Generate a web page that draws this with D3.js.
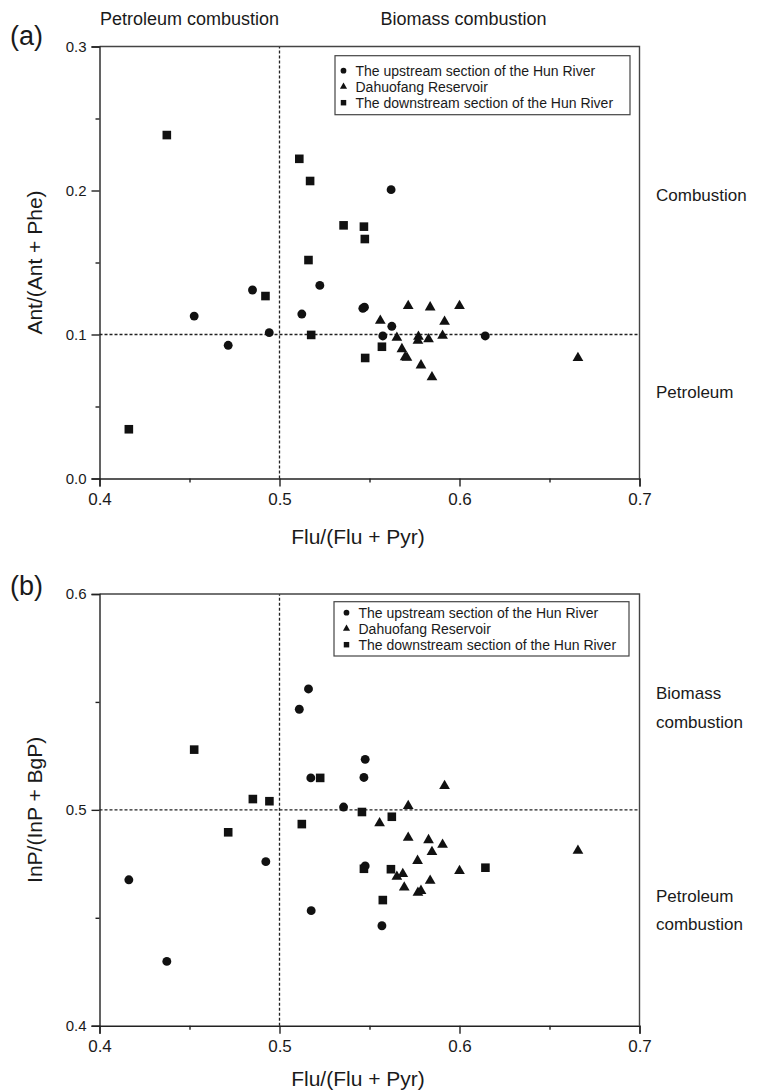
<!DOCTYPE html>
<html>
<head>
<meta charset="utf-8">
<script src="https://cdn.jsdelivr.net/npm/d3@7"></script>
<style>
    body { margin: 0; background: #fff; }
    svg text { font-family: Arial, "Liberation Sans", sans-serif; fill: #1a1a1a; }
</style>
</head>
<body>
<svg id="chart" width="766" height="1092"></svg>
<script>
// series names (same legend on both panels)
const seriesNames = [
    "The upstream section of the Hun River",
    "Dahuofang Reservoir",
    "The downstream section of the Hun River"
];

const xTicks = [0.4, 0.5, 0.6, 0.7];
const xMinor = [0.45, 0.55, 0.65];

// panel (a): Flu/(Flu+Pyr) vs Ant/(Ant+Phe)
const aTicks = [0.0, 0.1, 0.2, 0.3];
const aMinor = [0.05, 0.15, 0.25];
const aUpstream = [
    [0.562, 0.2006], [0.485, 0.1309], [0.5224, 0.1341], [0.4526, 0.1128],
    [0.5124, 0.1142], [0.5463, 0.1182], [0.5472, 0.119], [0.4943, 0.1013],
    [0.4715, 0.0925], [0.5624, 0.1057], [0.5574, 0.099], [0.6143, 0.099]
];
const aReservoir = [
    [0.556, 0.1096], [0.5652, 0.0978], [0.5715, 0.1198], [0.5837, 0.1189],
    [0.600, 0.1198], [0.5917, 0.1089], [0.5906, 0.0992], [0.5772, 0.0985],
    [0.5769, 0.0957], [0.5828, 0.0967], [0.568, 0.0899], [0.5698, 0.0842],
    [0.5708, 0.0839], [0.5786, 0.0786], [0.5847, 0.0703], [0.6658, 0.0837]
];
const aDownstream = [
    [0.4374, 0.2385], [0.511, 0.222], [0.517, 0.2066], [0.5356, 0.1758],
    [0.5469, 0.1749], [0.5474, 0.1663], [0.5161, 0.1517], [0.4922, 0.1267],
    [0.5176, 0.0997], [0.4163, 0.0342], [0.5569, 0.0915], [0.5476, 0.0837]
];

// panel (b): Flu/(Flu+Pyr) vs InP/(InP+BgP)
const bTicks = [0.4, 0.5, 0.6];
const bMinor = [0.45, 0.55];
const bUpstream = [
    [0.5161, 0.556], [0.511, 0.5466], [0.5476, 0.5234], [0.5174, 0.5148],
    [0.5469, 0.515], [0.5356, 0.5013], [0.4924, 0.476], [0.4163, 0.4676],
    [0.5476, 0.474], [0.5176, 0.4533], [0.5569, 0.4463], [0.4374, 0.4298]
];
const bReservoir = [
    [0.5556, 0.4938], [0.5652, 0.469], [0.5715, 0.5018], [0.5917, 0.5111],
    [0.5715, 0.4871], [0.5828, 0.486], [0.5906, 0.4839], [0.5847, 0.4805],
    [0.5767, 0.4764], [0.6658, 0.4811], [0.5685, 0.4703], [0.600, 0.4717],
    [0.5837, 0.4672], [0.5693, 0.4641], [0.5769, 0.4616], [0.5786, 0.4625]
];
const bDownstream = [
    [0.4526, 0.5279], [0.5226, 0.5148], [0.4852, 0.505], [0.4944, 0.504],
    [0.5458, 0.499], [0.5624, 0.4968], [0.5124, 0.4934], [0.4715, 0.4896],
    [0.5469, 0.4727], [0.5619, 0.4725], [0.5574, 0.4582], [0.6144, 0.4732]
];

let svg = d3.select("#chart");

let shapes = [d3.symbolCircle, d3.symbolTriangle, d3.symbolSquare];
let sizes = [62, 50, 74];
let legendSizes = [26, 22, 30];

let x = d3.scaleLinear().domain([0.4, 0.7]).range([99.5, 639.5]);

function drawPanel(cfg) {
    let y = d3.scaleLinear().domain(cfg.domain).range(cfg.range);
    let g = svg.append("g");
    let x0 = x.range()[0], x1 = x.range()[1];
    let y0 = y.range()[0], y1 = y.range()[1];

    // dashed reference lines
    g.append("line")
        .attr("x1", x(0.5)).attr("x2", x(0.5))
        .attr("y1", y0).attr("y2", y1)
        .attr("stroke", "#222").attr("stroke-width", 1.3)
        .attr("stroke-dasharray", "3,2");
    g.append("line")
        .attr("x1", x0).attr("x2", x1)
        .attr("y1", y(cfg.threshold)).attr("y2", y(cfg.threshold))
        .attr("stroke", "#222").attr("stroke-width", 1.3)
        .attr("stroke-dasharray", "3,2");

    // frame (top and right)
    g.append("path")
        .attr("d", "M" + x0 + "," + y1 + "H" + x1 + "V" + y0)
        .attr("fill", "none").attr("stroke", "#444").attr("stroke-width", 1.4);

    // bottom axis
    let xAxis = d3.axisBottom(x).tickValues(xTicks).tickSize(8).tickPadding(6)
        .tickFormat(d3.format(".1f"));
    let xa = g.append("g").attr("transform", "translate(0," + y0 + ")").call(xAxis);
    g.append("g").attr("transform", "translate(0," + y0 + ")")
        .call(d3.axisBottom(x).tickValues(xMinor).tickSize(4).tickFormat(""))
        .select(".domain").remove();
    xa.selectAll("text").style("font-size", "17px");

    // left axis
    let yAxis = d3.axisLeft(y).tickValues(cfg.ticks).tickSize(8).tickPadding(5)
        .tickFormat(d3.format(".1f"));
    let ya = g.append("g").attr("transform", "translate(" + x0 + ",0)").call(yAxis);
    g.append("g").attr("transform", "translate(" + x0 + ",0)")
        .call(d3.axisLeft(y).tickValues(cfg.minor).tickSize(4).tickFormat(""))
        .select(".domain").remove();
    ya.selectAll("text").style("font-size", "15px");

    svg.selectAll(".domain, .tick line")
        .attr("stroke", "#222").attr("stroke-width", 1.4);

    // points
    cfg.series.forEach(function (data, i) {
        g.selectAll(null)
            .data(data)
            .enter().append("path")
            .attr("d", d3.symbol().type(shapes[i]).size(sizes[i]))
            .attr("transform", d => "translate(" + x(d[0]) + "," + y(d[1]) + ")")
            .attr("fill", "#111");
    });

    // legend
    let lg = g.append("g");
    lg.append("rect")
        .attr("x", cfg.legend.x).attr("y", cfg.legend.y)
        .attr("width", 295).attr("height", cfg.legend.h)
        .attr("fill", "#fff").attr("stroke", "#444").attr("stroke-width", 1.2);
    seriesNames.forEach(function (name, i) {
        let ry = cfg.legend.y + cfg.legend.first + i * 16;
        lg.append("path")
            .attr("d", d3.symbol().type(shapes[i]).size(legendSizes[i]))
            .attr("transform", "translate(" + (cfg.legend.x + cfg.legend.mx) + "," + ry + ")")
            .attr("fill", "#111");
        lg.append("text")
            .attr("x", cfg.legend.x + cfg.legend.mx + 12)
            .attr("y", ry + 5)
            .style("font-size", "14px")
            .text(name);
    });

    // titles
    g.append("text")
        .attr("x", 358).attr("y", cfg.xLabelY)
        .attr("text-anchor", "middle")
        .style("font-size", "21px")
        .text("Flu/(Flu + Pyr)");
    g.append("text")
        .attr("transform", "translate(42," + (y0 + y1) / 2 + ") rotate(-90)")
        .attr("text-anchor", "middle")
        .style("font-size", "21px")
        .text(cfg.yLabel);
    g.append("text")
        .attr("x", 10).attr("y", cfg.tagY)
        .style("font-size", "27px")
        .text(cfg.tag);

    cfg.sideLabels.forEach(function (t) {
        g.append("text")
            .attr("x", 656).attr("y", t[1])
            .style("font-size", "17px")
            .text(t[0]);
    });
}

drawPanel({
    domain: [0, 0.3], range: [478.5, 46.5],
    ticks: aTicks, minor: aMinor, threshold: 0.1,
    series: [aUpstream, aReservoir, aDownstream],
    legend: {x: 335, y: 55.7, h: 59, first: 15, mx: 8.5},
    xLabelY: 544, yLabel: "Ant/(Ant + Phe)",
    tag: "(a)", tagY: 45,
    sideLabels: [["Combustion", 201], ["Petroleum", 398]]
});

drawPanel({
    domain: [0.4, 0.6], range: [1025.7, 594],
    ticks: bTicks, minor: bMinor, threshold: 0.5,
    series: [bUpstream, bReservoir, bDownstream],
    legend: {x: 334, y: 601.7, h: 54.3, first: 11, mx: 12.5},
    xLabelY: 1086, yLabel: "InP/(InP + BgP)",
    tag: "(b)", tagY: 595,
    sideLabels: [["Biomass", 699], ["combustion", 728], ["Petroleum", 902], ["combustion", 930]]
});

// region headers above panel (a)
svg.append("text")
    .attr("x", x(0.45)).attr("y", 25)
    .attr("text-anchor", "middle")
    .style("font-size", "18px")
    .text("Petroleum combustion");
svg.append("text")
    .attr("x", x(0.6) + 4).attr("y", 25)
    .attr("text-anchor", "middle")
    .style("font-size", "18px")
    .text("Biomass combustion");
</script>
</body>
</html>
